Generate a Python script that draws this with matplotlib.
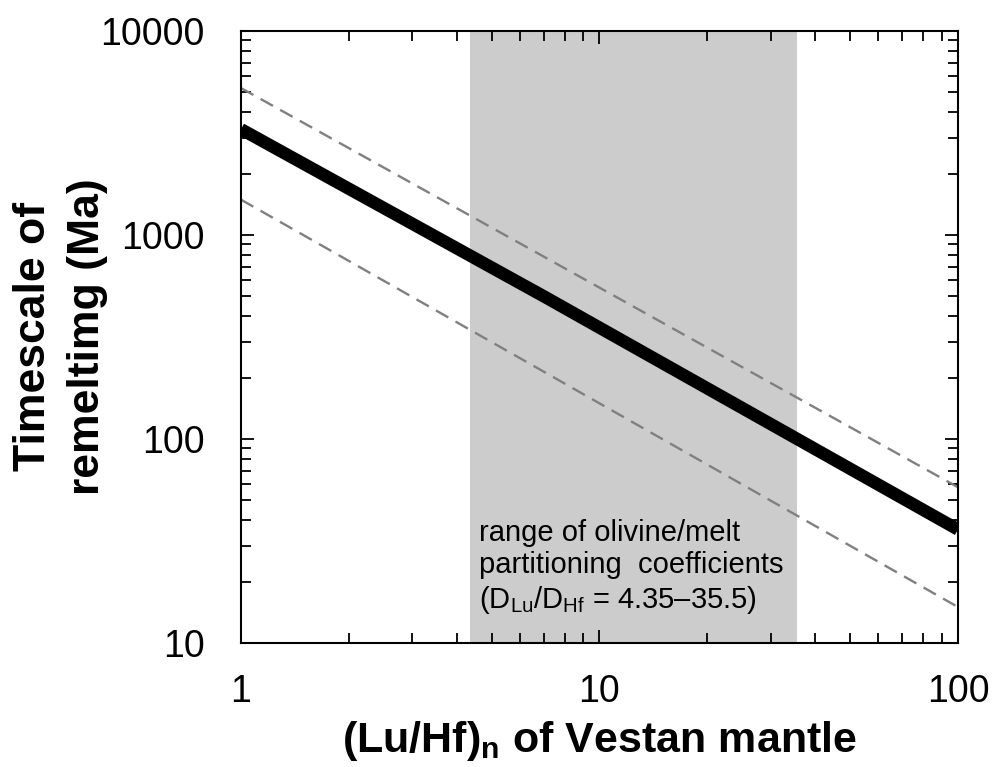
import matplotlib.pyplot as plt
from matplotlib.ticker import LogLocator, NullFormatter, FixedLocator

plt.rcParams['font.family'] = ['Liberation Sans', 'DejaVu Sans']
plt.rcParams['mathtext.fontset'] = 'custom'
plt.rcParams['mathtext.rm'] = 'Liberation Sans'
plt.rcParams['mathtext.bf'] = 'Liberation Sans:bold'

# (Lu/Hf)n of Vestan mantle vs. remelting timescale (Ma)
lu_hf = [1, 7, 100]
timescale = [3300, 500, 36]

upper_x = [1, 100]
upper_y = [5250, 58]
lower_x = [1, 100]
lower_y = [1490, 15]

# olivine/melt partitioning range
d_lo, d_hi = 4.35, 35.5

fig = plt.figure(figsize=(9.95, 7.67), dpi=100)
ax = fig.add_axes([0.2422, 0.1617, 0.7206, 0.7979])

ax.axvspan(d_lo, d_hi, color='#cccccc', lw=0, zorder=0)
ax.plot(upper_x, upper_y, color='#808080', lw=1.7, dashes=(6, 3.5), zorder=2)
ax.plot(lower_x, lower_y, color='#808080', lw=1.7, dashes=(6, 3.5), zorder=2)
ax.plot(lu_hf, timescale, color='black', lw=9, solid_capstyle='butt', zorder=3)

ax.set_xscale('log')
ax.set_yscale('log')
ax.set_xlim(1, 100)
ax.set_ylim(10, 10000)

ax.xaxis.set_major_locator(FixedLocator([1, 10, 100]))
ax.yaxis.set_major_locator(FixedLocator([10, 100, 1000, 10000]))
ax.set_xticklabels(['1', '10', '100'])
ax.set_yticklabels(['10', '100', '1000', '10000'])
ax.xaxis.set_minor_locator(LogLocator(base=10, subs=range(2, 10)))
ax.yaxis.set_minor_locator(LogLocator(base=10, subs=range(2, 10)))
ax.xaxis.set_minor_formatter(NullFormatter())
ax.yaxis.set_minor_formatter(NullFormatter())

ax.tick_params(which='both', direction='in', top=True, right=True, width=1.3)
ax.tick_params(which='major', length=9.5, labelsize=27)
ax.tick_params(which='minor', length=7)
ax.tick_params(axis='x', which='major', pad=22)
ax.tick_params(axis='y', which='major', pad=26)
for s in ax.spines.values():
    s.set_linewidth(1.5)

ax.set_xlabel('(Lu/Hf)$_\\mathbf{n}$ of Vestan mantle', fontsize=31, fontweight='bold', labelpad=7)
ax.set_ylabel('Timescale of\nremeltimg (Ma)', fontsize=32, fontweight='bold', linespacing=1.4)
ax.yaxis.set_label_coords(-0.1855, 0.5)

ax.text(4.6, 40.5, 'range of olivine/melt\npartitioning  coefficients\n(D$_\\mathrm{Lu}$/D$_\\mathrm{Hf}$ = 4.35–35.5)',
        fontsize=21, va='top', ha='left', linespacing=1.2, zorder=4)

fig.savefig('out.png', dpi=100)
